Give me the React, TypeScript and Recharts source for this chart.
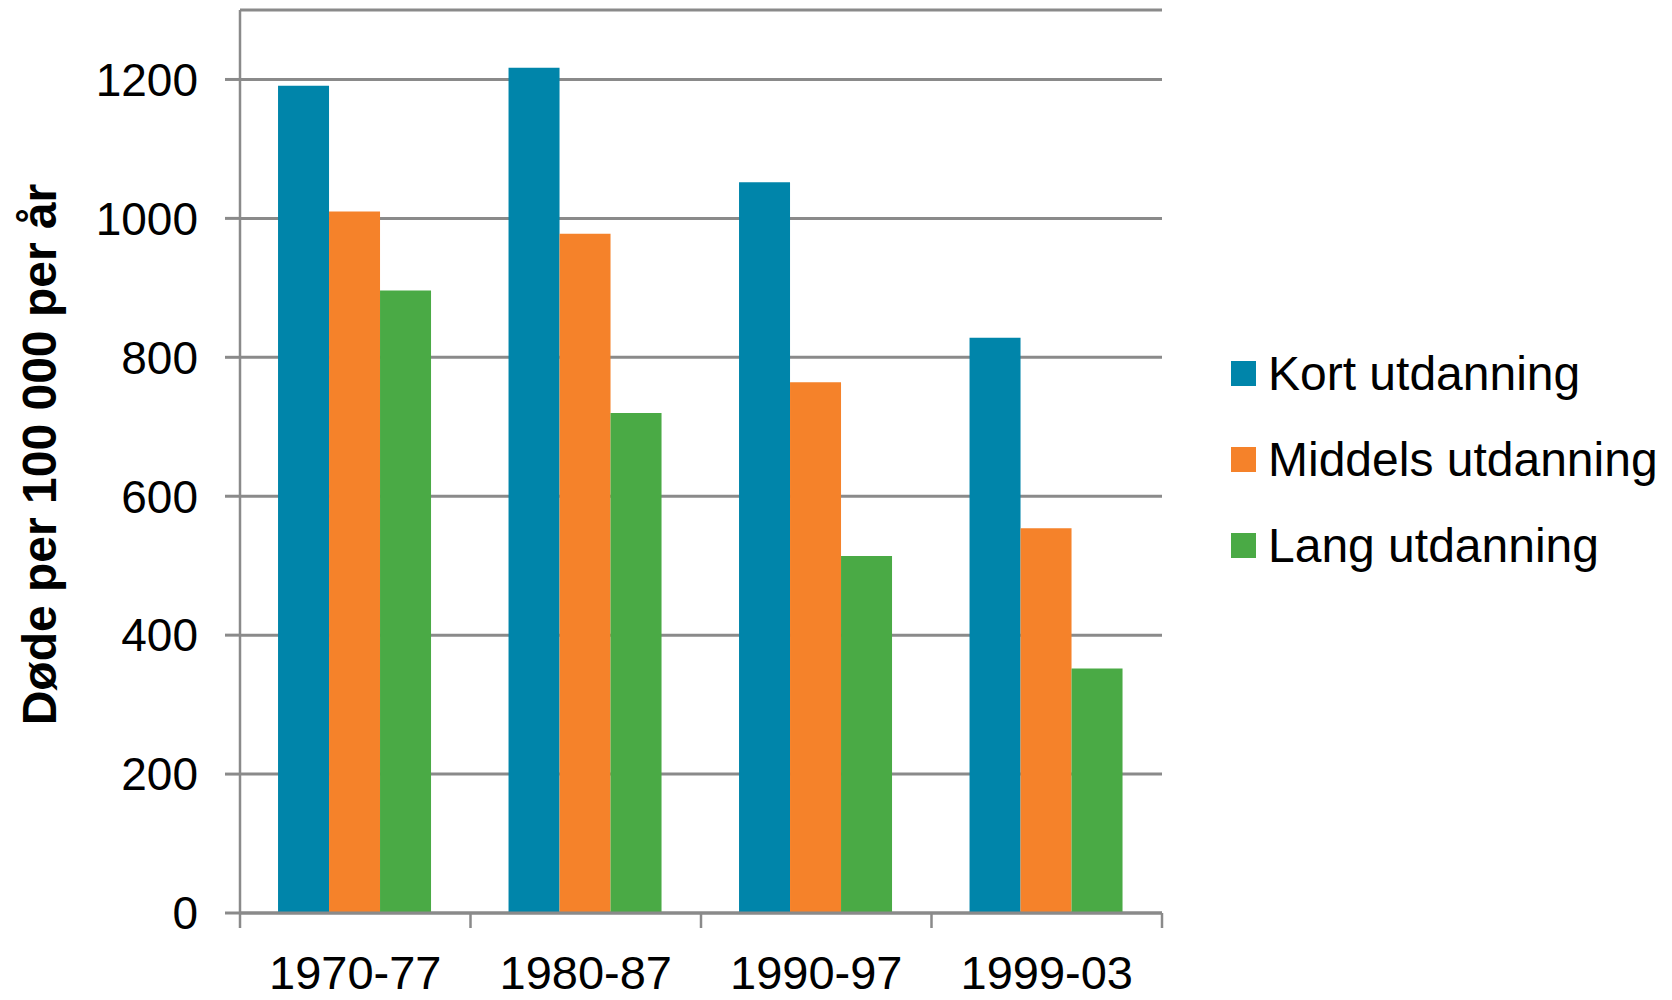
import React from 'react'
import {
  BarChart,
  Bar,
  XAxis,
  YAxis,
  CartesianGrid,
  Legend,
} from 'recharts'

const periods = ['1970-77', '1980-87', '1990-97', '1999-03']
const kort = [1191, 1217, 1052, 828]
const middels = [1010, 978, 764, 554]
const lang = [896, 720, 514, 352]
const yTicks = [0, 200, 400, 600, 800, 1000, 1200]

const SERIES = [
  { key: 'kort', name: 'Kort utdanning', color: '#0085AA' },
  { key: 'middels', name: 'Middels utdanning', color: '#F5822A' },
  { key: 'lang', name: 'Lang utdanning', color: '#4AAA45' },
]

const FONT = '"Liberation Sans", Arial, sans-serif'
const GRAY = '#8a8a8a'

const data = periods.map((period, i) => ({
  period,
  kort: kort[i],
  middels: middels[i],
  lang: lang[i],
}))

// category label plus a tick line on the band edges
// eslint-disable-next-line @typescript-eslint/no-explicit-any
const renderXTick = (props: any) => {
  const { x, y, payload, index, visibleTicksCount } = props
  const half = payload.offset ?? 0
  const top = y - 8
  return (
    <g>
      <line x1={x - half} x2={x - half} y1={top} y2={top + 15} stroke={GRAY} strokeWidth={2.5} />
      {index === visibleTicksCount - 1 && (
        <line x1={x + half} x2={x + half} y1={top} y2={top + 15} stroke={GRAY} strokeWidth={2.5} />
      )}
      <text x={x} y={top + 76} textAnchor="middle" fill="#000" fontSize={47} fontFamily={FONT}>
        {payload.value}
      </text>
    </g>
  )
}

// eslint-disable-next-line @typescript-eslint/no-explicit-any
const renderYLabel = (props: any) => {
  const { viewBox } = props
  const cy = viewBox.y + viewBox.height / 2 - 7
  return (
    <text
      x={39}
      y={cy}
      transform={`rotate(-90 39 ${cy})`}
      textAnchor="middle"
      dominantBaseline="central"
      fontSize={48}
      fontWeight={700}
      fontFamily={FONT}
      fill="#000"
    >
      Døde per 100 000 per år
    </text>
  )
}

const renderLegend = () => (
  <div style={{ fontFamily: FONT }}>
    {SERIES.map((s) => (
      <div key={s.key} style={{ height: 86, display: 'flex', alignItems: 'center' }}>
        <div style={{ width: 25, height: 25, background: s.color, marginRight: 12 }} />
        <span style={{ fontSize: 48, color: '#000', whiteSpace: 'nowrap' }}>{s.name}</span>
      </div>
    ))}
  </div>
)

export default function App() {
  return (
    <div style={{ position: 'absolute', left: 0, top: 0, background: '#fff' }}>
      <BarChart
        width={1672}
        height={1000}
        data={data}
        margin={{ top: 10, right: 74, bottom: 0, left: 0 }}
        barCategoryGap="16.5%"
        barGap={0}
      >
        <CartesianGrid vertical={false} stroke={GRAY} strokeWidth={3} />
        <XAxis
          dataKey="period"
          height={87}
          axisLine={{ stroke: GRAY, strokeWidth: 3 }}
          tickLine={false}
          tick={renderXTick}
          interval={0}
        />
        <YAxis
          width={240}
          domain={[0, 1300]}
          ticks={yTicks}
          interval={0}
          axisLine={{ stroke: GRAY, strokeWidth: 2.5 }}
          tickLine={{ stroke: GRAY, strokeWidth: 3 }}
          tickSize={15}
          tickMargin={27}
          tick={{ fill: '#000', fontSize: 46, fontFamily: FONT }}
          label={{ content: renderYLabel }}
        />
        <Legend
          layout="vertical"
          align="right"
          verticalAlign="middle"
          content={renderLegend}
          wrapperStyle={{ position: 'absolute', left: 1231, top: 330, width: 436 }}
        />
        {SERIES.map((s) => (
          <Bar key={s.key} dataKey={s.key} name={s.name} fill={s.color} isAnimationActive={false} />
        ))}
      </BarChart>
    </div>
  )
}
